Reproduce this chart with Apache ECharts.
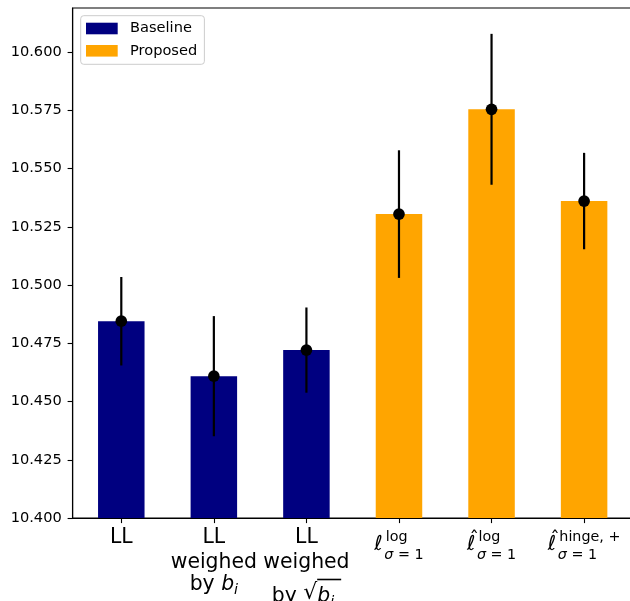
<!DOCTYPE html>
<html><head><meta charset="utf-8">
<script src="https://cdn.jsdelivr.net/npm/echarts@6/dist/echarts.min.js"></script>
<style>html,body{margin:0;padding:0;background:#fff}#c{width:630px;height:601px}</style>
</head><body><div id="c"></div>
<script>
// ---- data ----
const categories = ['LL', 'LL weighed by b_i', 'LL weighed by sqrt(b_i)', 'l_sigma=1^log', 'lhat_sigma=1^log', 'lhat_sigma=1^hinge,+'];
const groups = ['Baseline', 'Baseline', 'Baseline', 'Proposed', 'Proposed', 'Proposed'];
const means = [10.4845, 10.4609, 10.4721, 10.5305, 10.5755, 10.5361];
const errors = [0.0190, 0.0258, 0.0183, 0.0274, 0.0324, 0.0207];
const seriesNames = ['Baseline', 'Proposed'];
const yTicks = [10.400, 10.425, 10.450, 10.475, 10.500, 10.525, 10.550, 10.575, 10.600];
const xTickValues = [0, 1, 2, 3, 4, 5];
const xLabels = [
  '{c1|LL}',
  '{c1|LL}\n{c2|weighed}\n{c3|by }{b3|b}{i3|i}',
  '{c1|LL}\n{c2|weighed}\n{o1|by }{o2|√}{ov| }\n{c4|by }{r4|√}{b4|b}{i4|i}{p4| }',
  '{sp| }{sup|log}\n{l|ℓ}{sg|σ}{sn| = 1}',
  '{hs| }{hat|ˆ}{sup|log}\n{l|ℓ}{sg|σ}{sn| = 1}',
  '{hs| }{hat|ˆ}{sup|hinge, +}\n{l|ℓ}{sg|σ}{sn| = 1}'
];
const colors = { Baseline: '#000080', Proposed: '#ffa500' };

// ---- chart ----
const F = 'DejaVu Sans';
const S = 20.4, s = 14.3;
const rich = {
  c1: { fontFamily: F, fontSize: S, lineHeight: 23, align: 'center', color: '#000' },
  c2: { fontFamily: F, fontSize: S, lineHeight: 27, align: 'center', color: '#000' },
  c3: { fontFamily: F, fontSize: S, lineHeight: 16.4, align: 'center', color: '#000' },
  b3: { fontFamily: F, fontSize: S, fontStyle: 'italic', lineHeight: 16.4, align: 'center', color: '#000' },
  i3: { fontFamily: F, fontSize: s, fontStyle: 'italic', lineHeight: 1, height: 5.8, verticalAlign: 'bottom', align: 'center', color: '#000' },
  o1: { fontFamily: F, fontSize: S, lineHeight: 5.6, align: 'center', color: 'rgba(0,0,0,0)' },
  o2: { fontFamily: F, fontSize: 22, lineHeight: 5.6, align: 'center', color: 'rgba(0,0,0,0)' },
  ov: { fontFamily: F, fontSize: 1, width: 24, height: 1.6, lineHeight: 5.6, backgroundColor: '#000', align: 'center', color: 'rgba(0,0,0,0)' },
  c4: { fontFamily: F, fontSize: S, lineHeight: 28.6, align: 'center', color: '#000' },
  r4: { fontFamily: F, fontSize: 22, lineHeight: 1, height: 22.6, verticalAlign: 'top', align: 'center', color: '#000' },
  b4: { fontFamily: F, fontSize: S, fontStyle: 'italic', lineHeight: 28.6, align: 'center', color: '#000' },
  i4: { fontFamily: F, fontSize: s, fontStyle: 'italic', lineHeight: 1, height: 18, verticalAlign: 'bottom', align: 'center', color: '#000' },
  p4: { fontFamily: F, fontSize: 1, width: 7, lineHeight: 1, align: 'center', color: 'rgba(0,0,0,0)' },
  sp: { fontFamily: F, fontSize: S, width: 11.5, lineHeight: 16.1, align: 'left', color: 'rgba(0,0,0,0)' },
  hs: { fontFamily: F, fontSize: S, width: 2.5, lineHeight: 16.1, align: 'left', color: 'rgba(0,0,0,0)' },
  hat: { fontFamily: F, fontSize: 19, width: 9, lineHeight: 1, height: 6.2, verticalAlign: 'bottom', align: 'left', color: '#000' },
  sup: { fontFamily: F, fontSize: s, lineHeight: 1, height: 10.8, verticalAlign: 'bottom', align: 'left', color: '#000' },
  l: { fontFamily: F, fontSize: S, fontStyle: 'italic', width: 10, lineHeight: 1, height: 3.8, verticalAlign: 'top', align: 'left', color: '#000' },
  sg: { fontFamily: F, fontSize: s, fontStyle: 'italic', lineHeight: 24.4, align: 'left', color: '#000' },
  sn: { fontFamily: F, fontSize: s, lineHeight: 24.4, align: 'left', color: '#000' }
};

const barSeries = seriesNames.map(name => ({
  name: name,
  type: 'bar',
  barWidth: 46.5,
  barGap: '-100%',
  itemStyle: { color: colors[name] },
  data: means.map((m, i) => groups[i] === name ? [i, m] : null).filter(d => d !== null),
  z: 2
}));

const chart = echarts.init(document.getElementById('c'), null, { renderer: 'canvas' });
chart.setOption({
  animation: false,
  backgroundColor: '#fff',
  textStyle: { fontFamily: F },
  grid: { left: 72.7, right: -2.7, top: 8, bottom: 83, containLabel: false, outerBoundsMode: 'none',
          show: true, borderColor: '#000', borderWidth: 1.1, backgroundColor: 'transparent' },
  legend: {
    orient: 'vertical', left: 80.7, top: 15.7,
    data: seriesNames,
    icon: 'rect', itemWidth: 31.7, itemHeight: 11.6, itemGap: 7.3,
    padding: [5.3, 7.2, 6, 5.3],
    backgroundColor: 'rgba(255,255,255,0.8)',
    borderColor: '#cccccc', borderWidth: 1, borderRadius: 3,
    textStyle: { fontFamily: F, fontSize: 14.6, color: '#000', lineHeight: 15, padding: [0, 0, 0, 7.3] }
  },
  xAxis: {
    type: 'value', min: -0.525, max: 5.525,
    splitLine: { show: false },
    axisLine: { show: true, onZero: false, lineStyle: { color: '#000', width: 1.1 } },
    axisTick: { show: true, length: 5.1, customValues: xTickValues, lineStyle: { color: '#000', width: 1.1 } },
    axisLabel: {
      show: true, margin: 8.7, customValues: xTickValues,
      fontFamily: F, fontSize: S, color: '#000',
      formatter: v => xLabels[Math.round(v)],
      rich: rich
    }
  },
  yAxis: {
    type: 'value', min: 10.4, max: 10.619,
    splitLine: { show: false },
    axisLine: { show: true, onZero: false, lineStyle: { color: '#000', width: 1.1 } },
    axisTick: { show: true, length: 5.1, customValues: yTicks, lineStyle: { color: '#000', width: 1.1 } },
    axisLabel: {
      margin: 11, customValues: yTicks, fontFamily: F, fontSize: 14.6, color: '#000',
      formatter: v => v.toFixed(3)
    }
  },
  series: barSeries.concat([
    {
      type: 'custom',
      name: 'err',
      z: 5,
      renderItem: function (params, api) {
        const x = api.value(0), m = api.value(1), e = api.value(2);
        const p1 = api.coord([x, m - e]);
        const p2 = api.coord([x, m + e]);
        return { type: 'line', shape: { x1: p1[0], y1: p1[1], x2: p2[0], y2: p2[1] }, style: { stroke: '#000', lineWidth: 2.2 } };
      },
      encode: { x: 0, y: 1 },
      data: means.map((m, i) => [i, m, errors[i]])
    },
    {
      type: 'scatter',
      name: 'mean',
      z: 6,
      symbol: 'circle', symbolSize: 11.7,
      itemStyle: { color: '#000', opacity: 1 },
      data: means.map((m, i) => [i, m])
    }
  ])
});
</script>
</body></html>
